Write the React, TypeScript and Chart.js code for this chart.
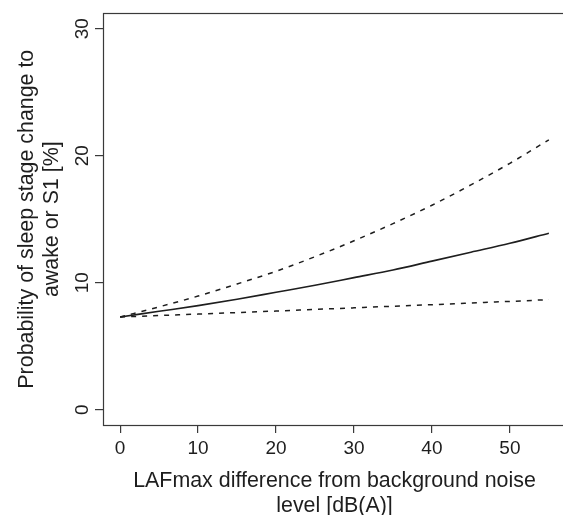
import React, { useEffect, useRef } from "react";
import { Chart, registerables } from "chart.js";

Chart.register(...registerables);

const xValues = [0, 5, 10, 15, 20, 25, 30, 35, 40, 45, 50, 55];
const meanProb = [7.3, 7.75, 8.2, 8.7, 9.25, 9.8, 10.4, 11.0, 11.7, 12.4, 13.1, 13.9];
const upperProb = [7.3, 8.1, 8.95, 9.9, 10.9, 12.05, 13.3, 14.65, 16.1, 17.7, 19.4, 21.25];
const lowerProb = [7.3, 7.42, 7.53, 7.65, 7.77, 7.9, 8.02, 8.15, 8.27, 8.4, 8.53, 8.67];

const xTitle = ["LAFmax difference from background noise", "level [dB(A)]"];
const yTitle = ["Probability of sleep stage change to", "awake or S1 [%]"];

const FONT = "'Liberation Sans', Arial, Helvetica, sans-serif";
const INK = "#1e1e1e";
const AXIS = "#3a3a3a";

const frame = {
  id: "frame",
  afterDraw(chart: any) {
    const { ctx, chartArea } = chart;
    ctx.save();
    ctx.strokeStyle = AXIS;
    ctx.lineWidth = 1.2;
    ctx.strokeRect(
      Math.round(chartArea.left) + 0.5,
      Math.round(chartArea.top) + 0.5,
      Math.round(chartArea.right - chartArea.left),
      Math.round(chartArea.bottom - chartArea.top)
    );
    ctx.restore();
  },
};

export default function App() {
  const ref = useRef<HTMLCanvasElement | null>(null);

  useEffect(() => {
    if (!ref.current) return;
    const pts = (ys: number[]) => xValues.map((x, i) => ({ x, y: ys[i] }));
    const chart = new Chart(ref.current, {
      type: "line",
      data: {
        datasets: [
          {
            data: pts(upperProb),
            borderColor: INK,
            borderWidth: 1.5,
            borderDash: [5, 6],
            pointRadius: 0,
            cubicInterpolationMode: "monotone",
          },
          {
            data: pts(meanProb),
            borderColor: INK,
            borderWidth: 1.6,
            pointRadius: 0,
            cubicInterpolationMode: "monotone",
          },
          {
            data: pts(lowerProb),
            borderColor: INK,
            borderWidth: 1.5,
            borderDash: [5, 6],
            pointRadius: 0,
            cubicInterpolationMode: "monotone",
          },
        ],
      },
      options: {
        animation: false,
        responsive: false,
        maintainAspectRatio: false,
        layout: { padding: { top: 12, left: 0, right: 0, bottom: 0 } },
        plugins: { legend: { display: false }, tooltip: { enabled: false } },
        scales: {
          x: {
            type: "linear",
            min: -2.2,
            max: 57.2,
            position: "bottom",
            border: { display: false },
            grid: { drawOnChartArea: false, tickLength: 8, color: AXIS, lineWidth: 1.2 },
            ticks: {
              stepSize: 10,
              includeBounds: false,
              maxRotation: 0,
              color: INK,
              padding: 4,
              font: { family: FONT, size: 19 },
            },
            title: {
              display: true,
              text: xTitle,
              color: INK,
              font: { family: FONT, size: 21.4, lineHeight: "25px" },
              padding: { top: 0, bottom: -4 },
            },
            afterFit: (s: any) => {
              s.height = 90;
            },
          },
          y: {
            type: "linear",
            min: -1.2,
            max: 31.2,
            border: { display: false },
            grid: { drawOnChartArea: false, tickLength: 8, color: AXIS, lineWidth: 1.2 },
            ticks: {
              stepSize: 10,
              includeBounds: false,
              minRotation: 90,
              maxRotation: 90,
              crossAlign: "center",
              padding: 2,
              color: INK,
              font: { family: FONT, size: 19 },
            },
            title: {
              display: true,
              text: yTitle,
              color: INK,
              font: { family: FONT, size: 21.4, lineHeight: "25px" },
              padding: { top: 15, bottom: 0 },
            },
            afterFit: (s: any) => {
              s.width = 103;
            },
          },
        },
      },
      plugins: [frame],
    } as any);
    return () => chart.destroy();
  }, []);

  return (
    <div
      style={{
        position: "fixed",
        left: 0,
        top: 0,
        width: 563,
        height: 515,
        overflow: "hidden",
        background: "#fff",
      }}
    >
      <canvas ref={ref} width={566} height={515} style={{ display: "block", width: 566, height: 515 }} />
    </div>
  );
}
